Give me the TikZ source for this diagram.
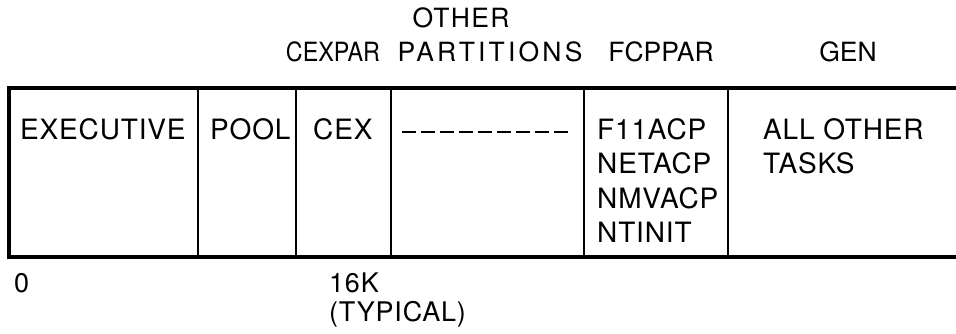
\documentclass[tikz,border=0pt]{standalone}
\usepackage{fontspec}
\setmainfont{TeX Gyre Heros}
\usetikzlibrary{positioning}

\begin{document}
\begin{tikzpicture}[x=1pt,y=-1pt,
    frame/.style={line width=4pt},
    divider/.style={line width=2.5pt},
    hdr/.style={inner sep=0pt, anchor=base, font=\fontsize{26.5}{28}\selectfont},
    lbl/.style={inner sep=0pt, anchor=north west, align=left,
                font=\fontsize{28}{34.5}\selectfont\addfontfeature{LetterSpace=3}},
    addr/.style={inner sep=0pt, anchor=north west, align=left,
                 font=\fontsize{27}{29}\selectfont\addfontfeature{LetterSpace=3}}
  ]
    \useasboundingbox (0,0) rectangle (956,334);

    % the memory layout
    \draw[frame] (960,88) -- (9,88) -- (9,257) -- (960,257);
    \foreach \x in {198,296,391,584,728}
      \draw[divider] (\x,88) -- (\x,257);

    % partition names
    \node[hdr] (other) at (461,28) {\addfontfeature{LetterSpace=5}OTHER};
    \node[hdr] (cexpar) at (333,62) {\addfontfeature{FakeStretch=0.88}CEXPAR};
    \node[hdr] (parts) at (490,62) {\addfontfeature{LetterSpace=12}PARTITIONS};
    \node[hdr] (fcppar) at (661,62) {FCPPAR};
    \node[hdr] (gen) at (848,62) {GEN};

    % contents
    \node[lbl] (exec) at (20,118) {EXECUTIVE};
    \node[lbl] (pool) at (210,118) {POOL};
    \node[lbl] (cex) at (313,118) {CEX};
    \coordinate (dashl) at (402,132);
    \coordinate (dashr) at (572,132);
    \draw[divider, dash pattern=on 14pt off 5pt] (dashl) -- (dashr);
    \node[lbl] (acps) at (597,118) {F11ACP\\NETACP\\NMVACP\\NTINIT};
    \node[lbl] (tasks) at (763,118) {ALL OTHER\\TASKS};

    % addresses
    \node[addr] (zero) at (14,273) {0};
    \node[addr] (sixteen) at (329,273) {16K\\(TYPICAL)};
\end{tikzpicture}
\end{document}
